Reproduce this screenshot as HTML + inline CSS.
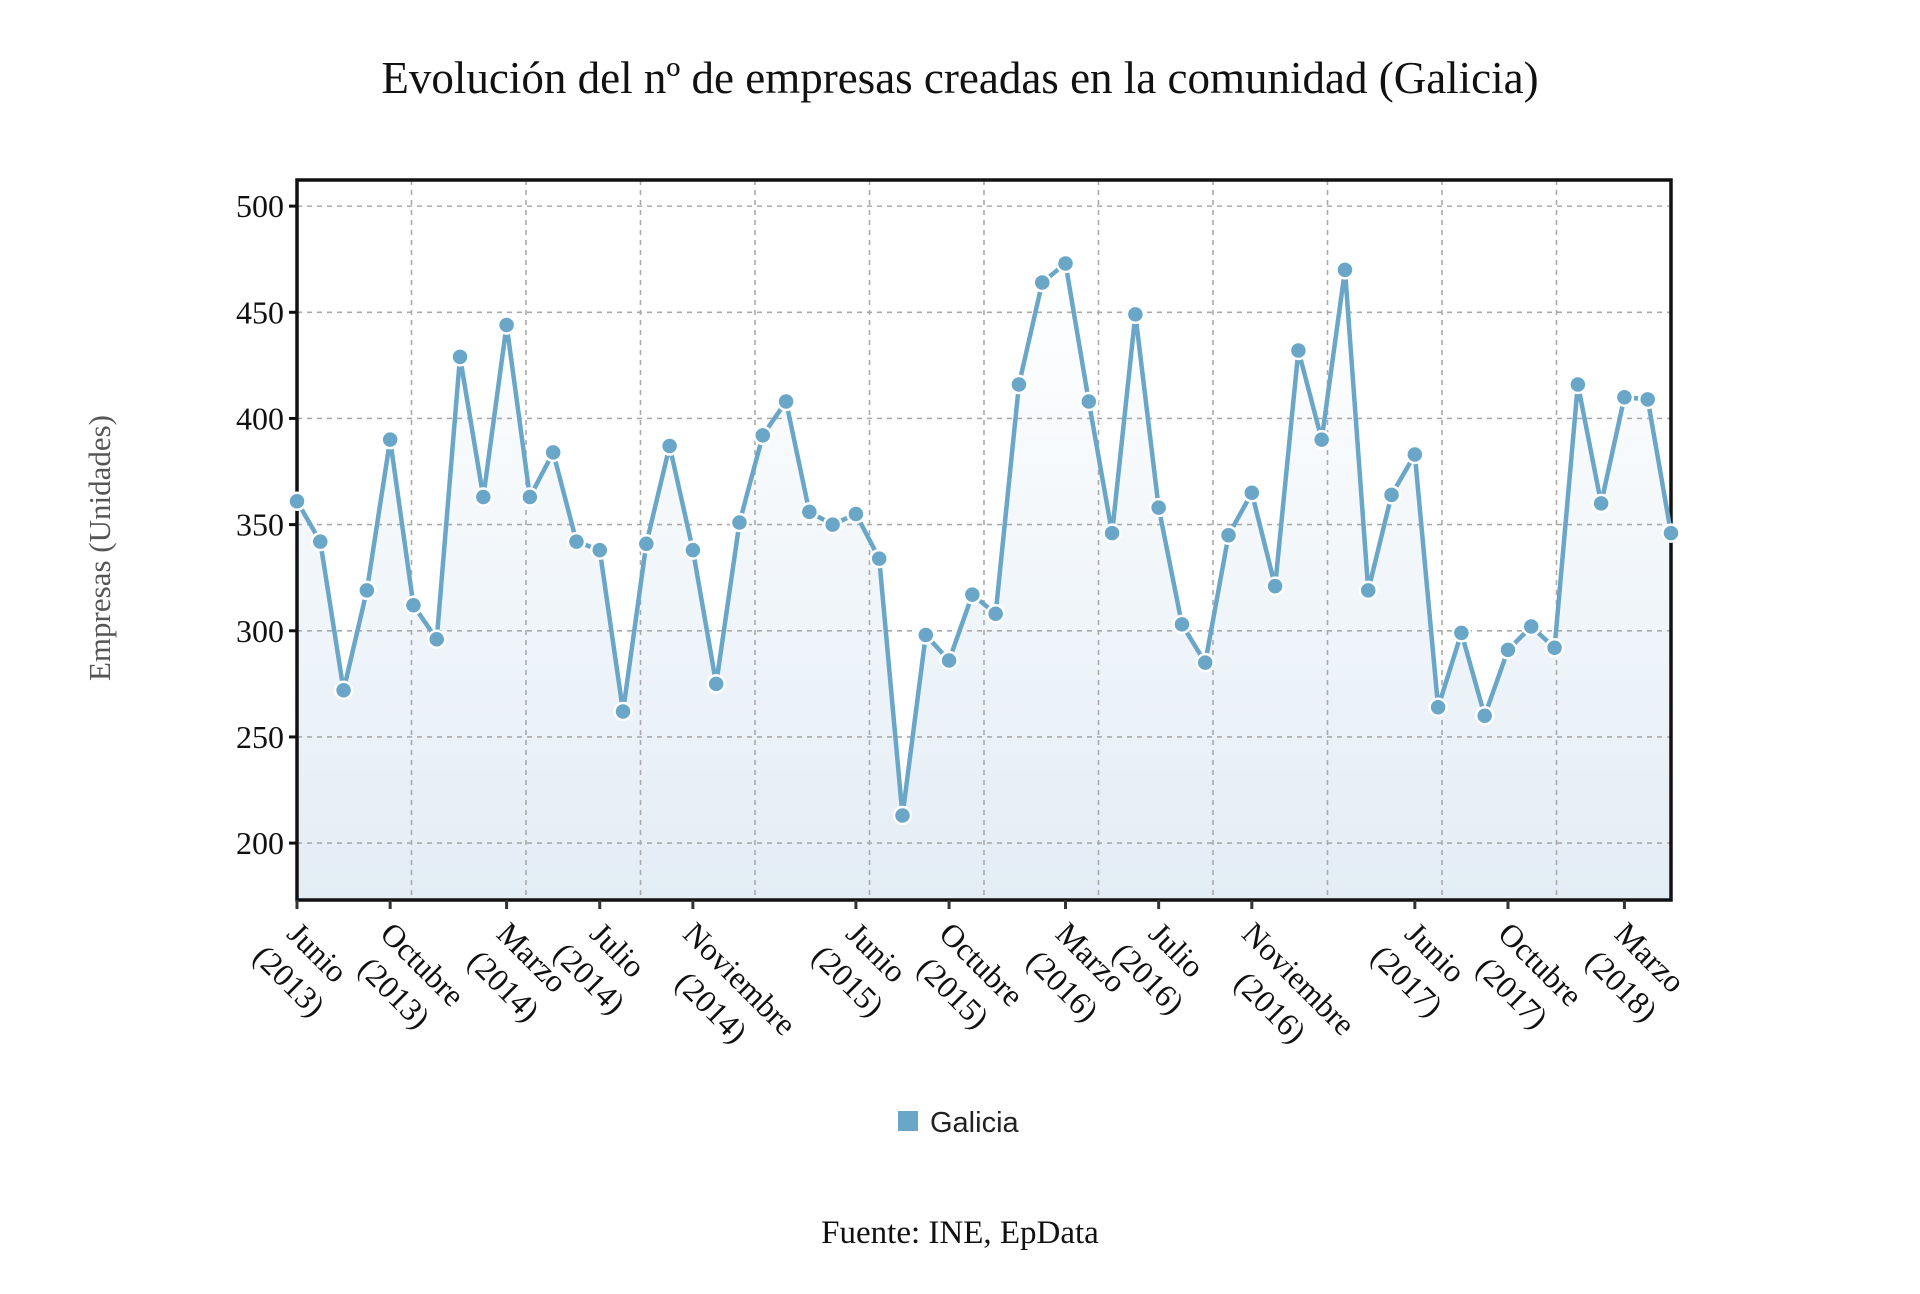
<!DOCTYPE html>
<html><head><meta charset="utf-8"><style>
html,body{margin:0;padding:0;background:#fff;width:1920px;height:1294px;overflow:hidden}
svg{display:block}
.tnr{font-family:"Liberation Serif",serif}
</style></head><body>
<svg id="chart" width="1920" height="1294" viewBox="0 0 1920 1294" xmlns="http://www.w3.org/2000/svg">
<defs>
<linearGradient id="areaGrad" x1="0" y1="0" x2="0" y2="1">
<stop offset="0" stop-color="#ffffff"/>
<stop offset="1" stop-color="#e3edf5"/>
</linearGradient>
</defs>
<text class="tnr" x="960" y="93" font-size="45" text-anchor="middle" fill="#111">Evolución del nº de empresas creadas en la comunidad (Galicia)</text>
<text class="tnr" transform="translate(110,548) rotate(-90)" font-size="31" text-anchor="middle" fill="#555">Empresas (Unidades)</text>
<g id="plot"></g>
<g>
<rect x="898" y="1111" width="20" height="20" fill="#6aa6c8"/>
<text x="930" y="1132" font-size="29" font-family="'Liberation Sans',sans-serif" fill="#222">Galicia</text>
</g>
<text class="tnr" x="960" y="1243" font-size="33" text-anchor="middle" fill="#111">Fuente: INE, EpData</text>
</svg>
<script>
const values = [361,342,272,319,390,312,296,429,363,444,363,384,342,338,262,341,387,338,275,351,392,408,356,350,355,334,213,298,286,317,308,416,464,473,408,346,449,358,303,285,345,365,321,432,390,470,319,364,383,264,299,260,291,302,292,416,360,410,409,346];
const tickIndex = [0,4,9,13,17,24,28,33,37,41,48,52,57];
const tickMonth = ["Junio","Octubre","Marzo","Julio","Noviembre","Junio","Octubre","Marzo","Julio","Noviembre","Junio","Octubre","Marzo"];
const tickYear = ["(2013)","(2013)","(2014)","(2014)","(2014)","(2015)","(2015)","(2016)","(2016)","(2016)","(2017)","(2017)","(2018)"];
const yTicks = [200,250,300,350,400,450,500];

const NS="http://www.w3.org/2000/svg";
const L=297,R=1671,T=180,B=900;
const yMin=173.2, yMax=512.3;
const x=i=>L+(R-L)*i/(values.length-1);
const y=v=>B-(v-yMin)/(yMax-yMin)*(B-T);
const g=document.getElementById('plot');
function mk(tag,attrs,parent){const e=document.createElementNS(NS,tag);for(const k in attrs)e.setAttribute(k,attrs[k]);(parent||g).appendChild(e);return e;}

const bg=mk('rect',{x:L,y:T,width:R-L,height:B-T,fill:'#fff'});


let d='M'+x(0)+','+B;
values.forEach((v,i)=>{d+=' L'+x(i)+','+y(v);});
d+=' L'+x(values.length-1)+','+B+' Z';
const area=mk('path',{d:d,fill:'url(#areaGrad)'});


yTicks.forEach(t=>{
  const gl=mk('line',{x1:L,x2:R,y1:y(t),y2:y(t),stroke:'#aaa','stroke-width':1.6,'stroke-dasharray':'5,5'});
  
  
  const tk=mk('line',{x1:L-8,x2:L,y1:y(t),y2:y(t),stroke:'#111','stroke-width':3});
  
  
  const lb=mk('text',{x:L-13,y:y(t)+11,'font-size':32,'text-anchor':'end',fill:'#111',class:'tnr'});
  
  
  lb.textContent=t;
});
for(let k=1;k<12;k++){
  const gx=L+(R-L)*k/12;
  const vl=mk('line',{x1:gx,x2:gx,y1:T,y2:B,stroke:'#aaa','stroke-width':1.6,'stroke-dasharray':'5,5'});
  
  
}
const fr=mk('rect',{x:L,y:T,width:R-L,height:B-T,fill:'none',stroke:'#111','stroke-width':3.5});


tickIndex.forEach((ti,k)=>{
  const tx=x(ti);
  const tk=mk('line',{x1:tx,x2:tx,y1:B,y2:B+9,stroke:'#333','stroke-width':3});
  
  
  const grp=mk('g',{transform:'translate('+(tx+4)+',920) rotate(45)'});
  
  
  const t1=mk('text',{x:0,y:22,'font-size':32,fill:'#111',class:'tnr'},grp);
  t1.textContent=tickMonth[k];
  const t2=mk('text',{x:0,y:62,'font-size':32,fill:'#111',class:'tnr'},grp);
  t2.textContent=tickYear[k];
  const w1=t1.getComputedTextLength(),w2=t2.getComputedTextLength();
  t2.setAttribute('x',(w1-w2)/2);
});
let ld='';
values.forEach((v,i)=>{ld+=(i?' L':'M')+x(i)+','+y(v);});
const line=mk('path',{d:ld,fill:'none',stroke:'#6aa6c8','stroke-width':4.5,'stroke-linejoin':'miter'});


values.forEach((v,i)=>{
  const c=mk('circle',{cx:x(i),cy:y(v),r:8.5,fill:'#6aa6c8',stroke:'#fff','stroke-width':2.5});
  
  
});
</script>
</body></html>
